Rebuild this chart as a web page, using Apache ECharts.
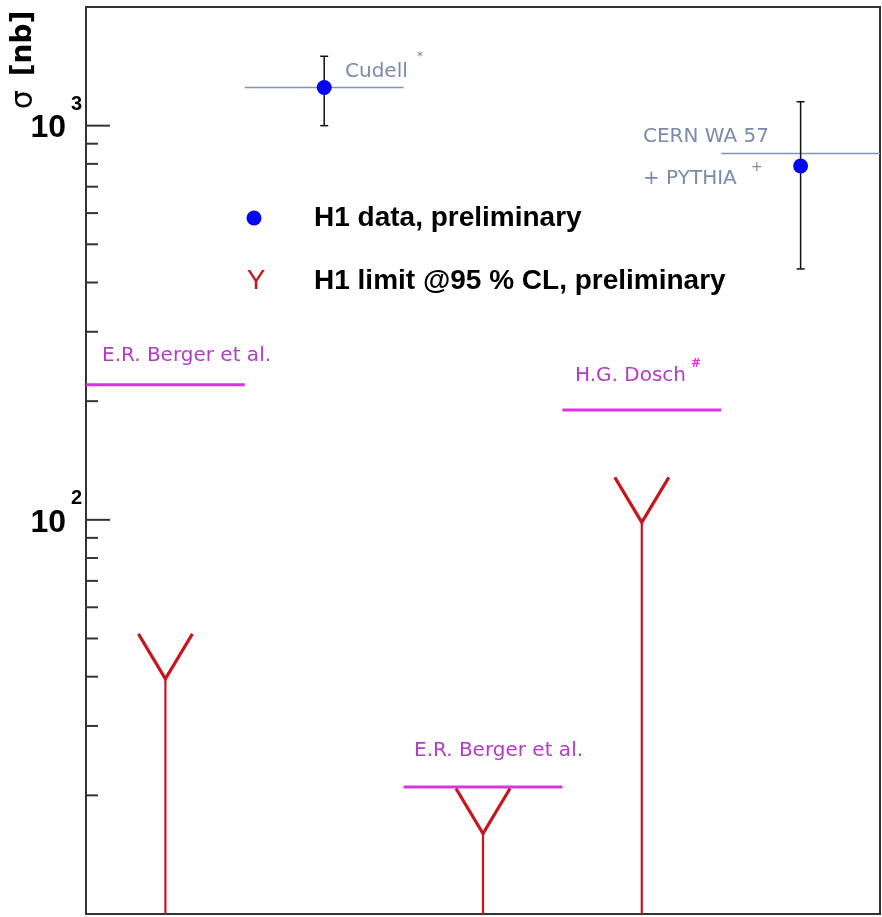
<!DOCTYPE html>
<html>
<head>
<meta charset="utf-8">
<script src="https://cdn.jsdelivr.net/npm/echarts@6/dist/echarts.min.js"></script>
<style>
  html, body { margin: 0; padding: 0; background: #fff; }
  #chart { width: 882px; height: 917px; }
</style>
</head>
<body>
<div id="chart"></div>
<script>
// ---- values -------------------------------------------------------------
// x runs over five bins (0..5); each measurement sits in the middle of its bin

// H1 measured cross sections [nb] with their error range
const dataX = [1.5, 4.5];
const dataValue = [1250, 790];
const dataLow = [1000, 433];
const dataHigh = [1500, 1150];

// H1 upper limits @95% CL [nb]
const limitX = [0.5, 2.5, 3.5];
const limitValue = [39.5, 16, 98.5];

// theory predictions [nb], each drawn across one bin
const theoryBin = [0, 1, 2, 3, 4];
const theoryValue = [220, 1250, 21, 190, 850];
const theoryKind = ['odderon', 'pomeron', 'odderon', 'odderon', 'pomeron'];

// y axis range and ticks
const yMin = 10, yMax = 2000;
const majorTicks = [100, 1000];
const minorTicks = [20, 30, 40, 50, 60, 70, 80, 90, 200, 300, 400, 500, 600, 700, 800, 900];
const tickExponent = { 100: '2', 1000: '3' };

// ---- styling -------------------------------------------------------------
const COL = {
  data: '#0505ee',
  err: '#111111',
  limit: '#c8161e',
  pomeron: '#8094b8',
  pomeronText: '#7b8aab',
  odderon: '#dc34dc',
  odderonText: '#b23cc4',
  frame: '#333333'
};
const TXT = '"DejaVu Sans", sans-serif';
const BOLD = '"Liberation Sans", Arial, sans-serif';

function seg(x1, y1, x2, y2, stroke, w) {
  return { type: 'line', shape: { x1, y1, x2, y2 }, style: { stroke, lineWidth: w } };
}

const chart = echarts.init(document.getElementById('chart'));

const option = {
  animation: false,
  grid: { left: 86, top: 7, right: 2, bottom: 3, show: true, borderColor: COL.frame, borderWidth: 2 },
  xAxis: { type: 'value', min: 0, max: 5, show: false },
  yAxis: {
    type: 'log', logBase: 10, min: yMin, max: yMax,
    axisLine: { show: false }, axisTick: { show: false },
    splitLine: { show: false }, minorTick: { show: false },
    axisLabel: { show: false }
  },
  series: [
    {
      // log-axis tick marks inside the frame, with 10^n labels on the decades
      type: 'custom', name: 'ticks', silent: true,
      data: majorTicks.map(v => [0, v, 1]).concat(minorTicks.map(v => [0, v, 0])),
      encode: { x: 0, y: 1 },
      renderItem: (params, api) => {
        const v = api.value(1);
        const p = api.coord([0, v]);
        const major = api.value(2) === 1;
        const children = [seg(p[0], p[1], p[0] + (major ? 24 : 12), p[1], COL.frame, 2)];
        if (major) {
          children.push({
            type: 'text', x: p[0] - 20, y: p[1] + 3,
            style: { text: '10', fontFamily: BOLD, fontWeight: 'bold', fontSize: 32, fill: '#000', align: 'right', verticalAlign: 'middle' }
          });
          children.push({
            type: 'text', x: p[0] - 15, y: p[1] - 21,
            style: { text: tickExponent[Math.round(v)], fontFamily: BOLD, fontWeight: 'bold', fontSize: 20, fill: '#000', align: 'left', verticalAlign: 'middle' }
          });
        }
        return { type: 'group', children };
      }
    },
    {
      // theory predictions as horizontal bars across a bin
      type: 'custom', name: 'theory', silent: true,
      data: theoryBin.map((b, i) => [b, theoryValue[i], theoryKind[i] === 'pomeron' ? 0 : 1]),
      encode: { x: 0, y: 1 },
      renderItem: (params, api) => {
        const b = api.value(0), v = api.value(1);
        const p0 = api.coord([b, v]), p1 = api.coord([b + 1, v]);
        const odd = api.value(2) === 1;
        return seg(p0[0], p0[1], p1[0], p1[1], odd ? COL.odderon : COL.pomeron, odd ? 3 : 1.5);
      }
    },
    {
      // upper limits: stem down to the axis with a Y-shaped head at the limit
      type: 'custom', name: 'H1 limit @95 % CL, preliminary', silent: true,
      data: limitX.map((x, i) => [x, limitValue[i]]),
      encode: { x: 0, y: 1 },
      renderItem: (params, api) => {
        const x = api.value(0), v = api.value(1);
        const p = api.coord([x, v]), q = api.coord([x, yMin]);
        return {
          type: 'group',
          children: [
            seg(p[0], p[1], q[0], q[1], COL.limit, 2.2),
            {
              type: 'polyline',
              shape: { points: [[p[0] - 27, p[1] - 45], [p[0], p[1]], [p[0] + 27, p[1] - 45]] },
              style: { stroke: COL.limit, lineWidth: 3.2, fill: null }
            }
          ]
        };
      }
    },
    {
      // error bars of the measurements
      type: 'custom', name: 'errors', silent: true,
      data: dataX.map((x, i) => [x, dataLow[i], dataHigh[i]]),
      encode: { x: 0, y: [1, 2] },
      renderItem: (params, api) => {
        const x = api.value(0);
        const lo = api.coord([x, api.value(1)]), hi = api.coord([x, api.value(2)]);
        return {
          type: 'group',
          children: [
            seg(lo[0], lo[1], hi[0], hi[1], COL.err, 1.5),
            seg(lo[0] - 4, lo[1], lo[0] + 4, lo[1], COL.err, 1.5),
            seg(hi[0] - 4, hi[1], hi[0] + 4, hi[1], COL.err, 1.5)
          ]
        };
      }
    },
    {
      type: 'scatter', name: 'H1 data, preliminary', silent: true,
      data: dataX.map((x, i) => [x, dataValue[i]]),
      symbol: 'circle', symbolSize: 15,
      itemStyle: { color: COL.data, opacity: 1 }
    }
  ],
  graphic: [
    // axis title
    {
      type: 'text', x: 24, y: 60, rotation: Math.PI / 2,
      style: {
        text: '{s|σ}{b|[nb]}', align: 'center', verticalAlign: 'middle',
        rich: {
          s: { fontFamily: TXT, fontSize: 30, fill: '#000', padding: [0, 14, 0, 0] },
          b: { fontFamily: TXT, fontWeight: 'bold', fontSize: 28, fill: '#000' }
        }
      }
    },
    // legend
    { type: 'circle', shape: { cx: 254, cy: 218, r: 7.5 }, style: { fill: COL.data } },
    { type: 'text', x: 314, y: 218, style: { text: 'H1 data, preliminary', fontFamily: BOLD, fontWeight: 'bold', fontSize: 28, fill: '#000', verticalAlign: 'middle' } },
    { type: 'text', x: 256, y: 281, style: { text: 'Y', fontFamily: BOLD, fontSize: 28, fill: COL.limit, align: 'center', verticalAlign: 'middle' } },
    { type: 'text', x: 314, y: 281, style: { text: 'H1 limit @95 % CL, preliminary', fontFamily: BOLD, fontWeight: 'bold', fontSize: 28, fill: '#000', verticalAlign: 'middle' } },
    // theory annotations
    { type: 'text', x: 345, y: 72, style: { text: 'Cudell', fontFamily: TXT, fontSize: 20, fill: COL.pomeronText, verticalAlign: 'middle' } },
    { type: 'text', x: 417, y: 57, style: { text: '*', fontFamily: TXT, fontSize: 12, fill: COL.pomeronText, verticalAlign: 'middle' } },
    { type: 'text', x: 643, y: 137, style: { text: 'CERN WA 57', fontFamily: TXT, fontSize: 20, fill: COL.pomeronText, verticalAlign: 'middle' } },
    { type: 'text', x: 643, y: 179, style: { text: '+ PYTHIA', fontFamily: TXT, fontSize: 20, fill: COL.pomeronText, verticalAlign: 'middle' } },
    { type: 'text', x: 751, y: 167, style: { text: '+', fontFamily: TXT, fontSize: 14, fill: COL.pomeronText, verticalAlign: 'middle' } },
    { type: 'text', x: 102, y: 356, style: { text: 'E.R. Berger et al.', fontFamily: TXT, fontSize: 20, fill: COL.odderonText, verticalAlign: 'middle' } },
    { type: 'text', x: 575, y: 376, style: { text: 'H.G. Dosch', fontFamily: TXT, fontSize: 20, fill: COL.odderonText, verticalAlign: 'middle' } },
    { type: 'text', x: 691, y: 364, style: { text: '#', fontFamily: TXT, fontSize: 12, fontWeight: 'bold', fill: COL.odderon, verticalAlign: 'middle' } },
    { type: 'text', x: 414, y: 751, style: { text: 'E.R. Berger et al.', fontFamily: TXT, fontSize: 20, fill: COL.odderonText, verticalAlign: 'middle' } }
  ]
};

chart.setOption(option);
</script>
</body>
</html>
